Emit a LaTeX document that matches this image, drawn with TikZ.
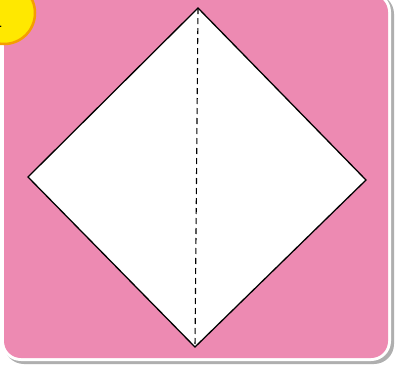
\documentclass[tikz,border=0pt]{standalone}
\usepackage{tikz}
\usetikzlibrary{positioning}
\definecolor{cardpink}{RGB}{237,138,178}
\definecolor{badgeyellow}{RGB}{255,232,0}
\definecolor{badgeorange}{RGB}{245,158,0}
\definecolor{shadowgray}{RGB}{175,175,175}

\begin{document}
\begin{tikzpicture}[x=1pt, y=-1pt, every node/.style={font=\bfseries},
    fold/.style={draw=black, line width=1.3pt, fill=white, line join=miter},
    crease/.style={draw=black, line width=1.1pt, dash pattern=on 6pt off 4pt}]
  \useasboundingbox (0,0) rectangle (395,365);
  \fill[white] (0,0) rectangle (395,365);
  % card with white rim and shadow
  \fill[shadowgray, rounded corners=20pt] (4,-6) rectangle (394,364);
  \fill[white, rounded corners=20pt] (1,-8) rectangle (391,361);
  \fill[cardpink, rounded corners=17pt] (4,-5) rectangle (388,358);
  % step badge
  \node[circle, fill=badgeyellow, draw=badgeorange, line width=2.5pt,
    minimum size=62pt, inner sep=0pt] (badge) at (4,13) {};
  \node[anchor=base east, inner sep=0pt, font=\bfseries\fontsize{30}{30}\selectfont] (num) at (4,27) {1};
  % paper square
  \coordinate (top) at (198,8);
  \coordinate (right) at (366,180);
  \coordinate (bottom) at (195,347);
  \coordinate (left) at (28,177);
  \draw[fold] (top) -- (right) -- (bottom) -- (left) -- cycle;
  \draw[crease] (top) -- (bottom);
\end{tikzpicture}
\end{document}
